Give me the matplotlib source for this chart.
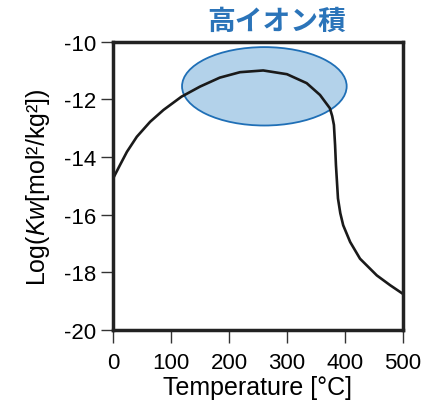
import matplotlib
matplotlib.use("Agg")
import matplotlib.pyplot as plt
from matplotlib.patches import Ellipse

plt.rcParams['font.family'] = ['Liberation Sans', 'DejaVu Sans']
plt.rcParams['mathtext.fontset'] = 'custom'
plt.rcParams['mathtext.it'] = 'Liberation Sans:italic'
plt.rcParams['mathtext.rm'] = 'Liberation Sans'
plt.rcParams['axes.unicode_minus'] = False

temperature = [0, 12, 24, 41, 64, 87, 118, 150, 184, 219, 259, 300, 334, 357,
               374, 378, 381, 383, 384.5, 388, 392, 397, 409, 426, 455, 478, 500]
log_kw = [-14.75, -14.28, -13.82, -13.30, -12.78, -12.37, -11.91, -11.56, -11.25,
          -11.06, -11.00, -11.13, -11.44, -11.85, -12.31, -12.58, -12.89, -13.59,
          -14.28, -15.44, -15.95, -16.37, -16.95, -17.53, -18.11, -18.45, -18.75]

x_ticks = [0, 100, 200, 300, 400, 500]
y_ticks = [-20, -18, -16, -14, -12, -10]

highlight_center = (261, -11.55)
highlight_width = 284
highlight_height = 2.72

title_text = "高イオン積"
x_label = "Temperature [°C]"
y_label = "Log($\\mathit{Kw}$[mol²/kg²])"

fig = plt.figure(figsize=(4.25, 4.06), dpi=100)
ax = fig.add_axes([0.266, 0.185, 0.682, 0.710])

ell = Ellipse(highlight_center, highlight_width, highlight_height,
              facecolor='#b3d2ea', edgecolor='#1f6fb6', linewidth=1.3, zorder=1)
ax.add_patch(ell)
ax.plot(temperature, log_kw, color='#1a1a1a', linewidth=1.9, zorder=2,
        solid_joinstyle='round')

ax.set_xlim(0, 500)
ax.set_ylim(-20, -10)
ax.set_xticks(x_ticks)
ax.set_yticks(y_ticks)
ax.tick_params(direction='out', length=9, width=1, labelsize=16, color='#333333')
ax.tick_params(axis='x', pad=7)
ax.tick_params(axis='y', pad=3)
for s in ax.spines.values():
    s.set_linewidth(2.5)
    s.set_color('#222222')
ax.set_xlabel(x_label, fontsize=18, labelpad=1)
ax.set_ylabel(y_label, fontsize=18, labelpad=9)

fig.text(0.65, 0.945, title_text, ha='center', va='center', fontsize=20,
         fontweight='bold', color='#2b74b9',
         family=['Noto Sans CJK JP', 'DejaVu Sans'])

fig.savefig('out.png', dpi=100)
